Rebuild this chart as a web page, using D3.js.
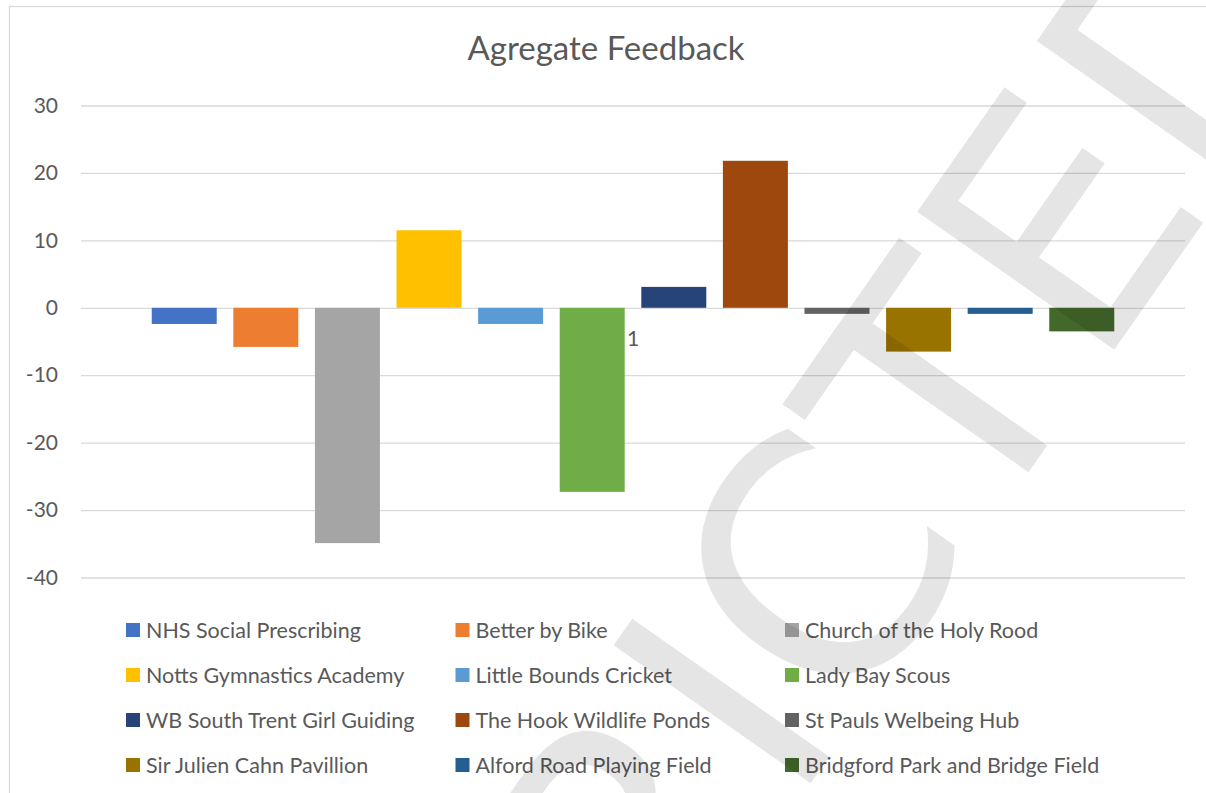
<!DOCTYPE html>
<html>
<head>
<meta charset="utf-8">
<script src="https://cdn.jsdelivr.net/npm/d3@7"></script>
<style>
  body { margin: 0; background: #fff; }
  svg { display: block; }
</style>
</head>
<body>
<svg id="chart" width="1206" height="793"></svg>
<script>
// data
var seriesNames = [
    "NHS Social Prescribing", "Better by Bike", "Church of the Holy Rood",
    "Notts Gymnastics Academy", "Little Bounds Cricket", "Lady Bay Scous",
    "WB South Trent Girl Guiding", "The Hook Wildlife Ponds", "St Pauls Welbeing Hub",
    "Sir Julien Cahn Pavillion", "Alford Road Playing Field", "Bridgford Park and Bridge Field"
];
var seriesValues = [-2.4, -5.8, -34.9, 11.5, -2.4, -27.3, 3.1, 21.8, -0.9, -6.5, -0.9, -3.5];
var seriesColors = [
    "#4472C4", "#ED7D31", "#A5A5A5", "#FFC000", "#5B9BD5", "#70AD47",
    "#264478", "#9E480E", "#636363", "#997300", "#255E91", "#43682B"
];
var categories = ["1"];
var yTicks = [30, 20, 10, 0, -10, -20, -30, -40];

var svg = d3.select('#chart');
var font = "Lato, 'Open Sans', sans-serif";
var textColor = "#595959";

var plot = {left: 81, right: 1185, top: 105.5, bottom: 577.5};

// chart area border (only top/left visible in the crop)
svg.append("rect")
    .attr("x", 9.5).attr("y", 6.5)
    .attr("width", 1300).attr("height", 900)
    .attr("fill", "#fff")
    .attr("stroke", "#d9d9d9")
    .attr("stroke-width", 1.3);

var yScale = d3.scaleLinear().domain([-40, 30]).range([plot.bottom, plot.top]);
var xCat = d3.scaleBand().domain(categories).range([plot.left, plot.right]);
var xSeries = d3.scaleBand().domain(seriesNames)
    .range([plot.left, plot.right])
    .paddingInner(0.2035)
    .paddingOuter(0.867);

// gridlines
var grid = svg.append("g")
    .attr("transform", "translate(" + plot.left + ",0)")
    .call(d3.axisLeft(yScale).tickValues(yTicks).tickSize(-(plot.right - plot.left)).tickFormat(""));
grid.select(".domain").remove();
grid.selectAll("line").attr("stroke", "#d9d9d9").attr("stroke-width", 1.3);

// y labels (plain hyphen, like Excel)
var yAxis = svg.append("g")
    .attr("transform", "translate(" + plot.left + ",0)")
    .call(d3.axisLeft(yScale).tickValues(yTicks).tickSize(0).tickPadding(23)
        .tickFormat(function(d) { return String(d); }));
yAxis.select(".domain").remove();
yAxis.selectAll("text")
    .style("font-family", font).style("font-size", "21px").attr("fill", textColor);

// bars
svg.append("g").selectAll("rect")
    .data(seriesValues)
    .join("rect")
    .attr("x", function(d, i) { return xSeries(seriesNames[i]); })
    .attr("width", xSeries.bandwidth())
    .attr("y", function(d) { return yScale(Math.max(0, d)); })
    .attr("height", function(d) { return Math.abs(yScale(d) - yScale(0)); })
    .attr("fill", function(d, i) { return seriesColors[i]; });

// category axis label
var xAxis = svg.append("g")
    .attr("transform", "translate(0," + yScale(0) + ")")
    .call(d3.axisBottom(xCat).tickSize(0).tickPadding(23));
xAxis.select(".domain").remove();
xAxis.selectAll("text")
    .style("font-family", font).style("font-size", "21px").attr("fill", textColor);

// title
svg.append("text")
    .attr("x", 606).attr("y", 60)
    .attr("text-anchor", "middle")
    .style("font-family", font).style("font-size", "33px")
    .attr("fill", textColor)
    .text("Agregate Feedback");

// legend, 3 columns
var legend = svg.append("g").selectAll("g")
    .data(seriesNames)
    .join("g")
    .attr("transform", function(d, i) {
        return "translate(" + (126 + (i % 3) * 329.5) + "," + (630 + Math.floor(i / 3) * 45) + ")";
    });
legend.append("rect")
    .attr("x", 0).attr("y", -7).attr("width", 14).attr("height", 14)
    .attr("fill", function(d, i) { return seriesColors[i]; });
legend.append("text")
    .attr("x", 20).attr("dy", "0.36em")
    .style("font-family", font).style("font-size", "21.5px")
    .attr("fill", textColor)
    .text(function(d) { return d; });

// watermark
var wm = svg.append("g");
var wmText = wm.append("text")
    .attr("x", 0).attr("y", 0)
    .style("font-family", "'DejaVu Sans'").style("font-size", "330px")
    .attr("fill", "#000").attr("fill-opacity", 0.1)
    .text("RESTRICTED");
var iBox = wmText.node().getExtentOfChar(5);
var iMid = iBox.x + iBox.width / 2;
wm.attr("transform", "translate(820,770) rotate(-55) translate(" + (-iMid) + ",0)");
</script>
</body>
</html>
